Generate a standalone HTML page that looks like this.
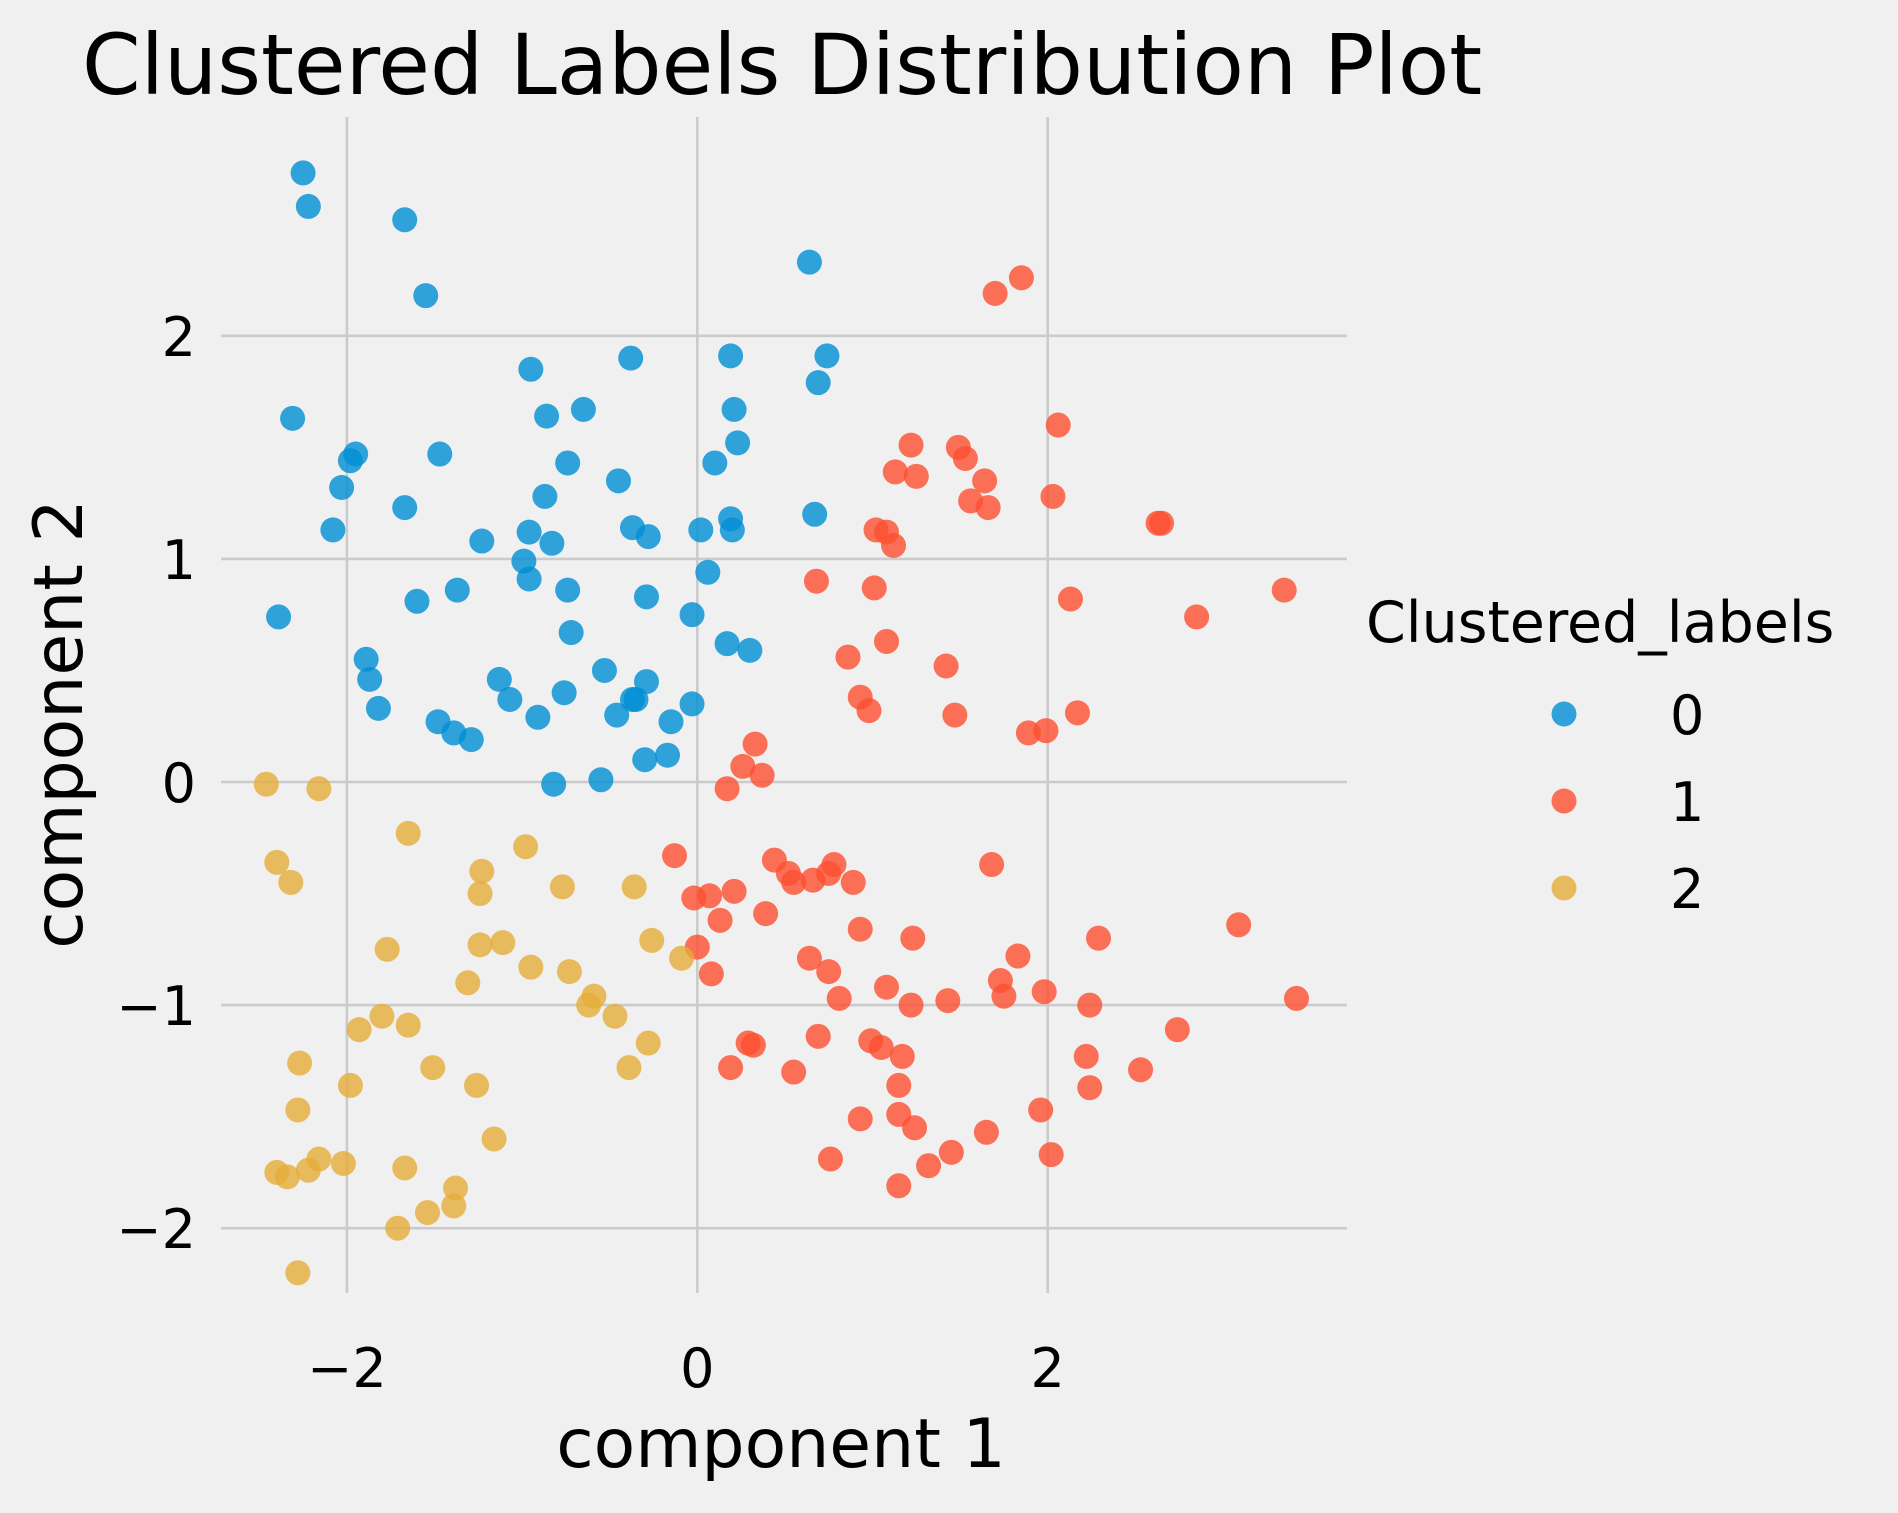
<!DOCTYPE html>
<html>
<head>
<meta charset="utf-8">
<style>
html,body{margin:0;padding:0;background:#f0f0f0;}
svg{display:block;}
text{font-family:"DejaVu Sans","Liberation Sans",sans-serif;fill:#000;}
</style>
</head>
<body>
<svg id="chart" width="1898" height="1513" viewBox="0 0 1898 1513" xmlns="http://www.w3.org/2000/svg">
<rect x="0" y="0" width="1898" height="1513" fill="#f0f0f0"/>
<text x="82" y="94" font-size="84">Clustered Labels Distribution Plot</text>
<g id="grid"></g>
<g id="ticks"></g>
<g id="points"></g>
<text x="781" y="1467" font-size="68" text-anchor="middle">component 1</text>
<text x="0" y="0" font-size="68" text-anchor="middle" transform="translate(82,724) rotate(-90)">component 2</text>
<g id="legend">
<text x="1366" y="642" font-size="57">Clustered_labels</text>
</g>
</svg>
<script>
var xTicks = [-2, 0, 2];
var yTicks = [-2, -1, 0, 1, 2];
var labels = ["0", "1", "2"];
var colors = ["#008fd5", "#fc4f30", "#e5ae38"];
var x0 = [-2.25,-2.22,-1.67,-1.55,0.64,-2.31,-0.95,-0.86,-0.65,-0.38,0.19,0.21,0.74,0.69,0.23,0.10,-1.95,-1.98,-1.47,-0.74,-2.03,-1.67,-0.45,-0.87,-2.08,-0.96,-0.83,-0.37,-0.28,0.02,0.20,0.19,0.67,-1.23,-0.99,-0.96,0.06,-1.37,-1.60,-0.74,-0.29,-0.03,-2.39,-0.72,0.17,0.30,-1.89,-1.87,-1.13,-1.07,-0.53,-0.29,-1.82,-0.76,-0.37,-0.35,-0.46,-0.03,-0.15,-1.48,-1.39,-1.29,-0.91,-0.82,-0.55,-0.30,-0.17];
var y0 = [2.73,2.58,2.52,2.18,2.33,1.63,1.85,1.64,1.67,1.90,1.91,1.67,1.91,1.79,1.52,1.43,1.47,1.44,1.47,1.43,1.32,1.23,1.35,1.28,1.13,1.12,1.07,1.14,1.10,1.13,1.13,1.18,1.20,1.08,0.99,0.91,0.94,0.86,0.81,0.86,0.83,0.75,0.74,0.67,0.62,0.59,0.55,0.46,0.46,0.37,0.50,0.45,0.33,0.40,0.37,0.37,0.30,0.35,0.27,0.27,0.22,0.19,0.29,-0.01,0.01,0.10,0.12];
var x1 = [1.85,1.70,2.06,1.22,1.49,1.53,1.13,1.25,1.64,2.03,1.56,1.66,2.63,2.65,1.02,1.08,1.12,0.68,1.01,2.13,2.85,3.35,1.08,0.86,1.42,0.93,0.98,1.47,1.89,1.99,2.17,0.33,0.26,0.37,0.17,-0.13,0.44,0.52,0.55,0.66,0.75,0.78,0.89,1.68,-0.02,0.07,0.21,0.39,0.13,0.93,1.23,2.29,3.09,0.00,0.08,0.64,0.75,0.81,1.08,1.22,1.43,1.73,1.83,1.75,1.98,2.24,0.99,1.05,0.69,0.29,0.32,1.17,0.19,0.55,2.22,2.74,2.53,2.24,1.15,1.15,1.24,0.93,1.65,1.96,1.45,2.02,1.32,0.76,1.15,3.42];
var y1 = [2.26,2.19,1.60,1.51,1.50,1.45,1.39,1.37,1.35,1.28,1.26,1.23,1.16,1.16,1.13,1.12,1.06,0.90,0.87,0.82,0.74,0.86,0.63,0.56,0.52,0.38,0.32,0.30,0.22,0.23,0.31,0.17,0.07,0.03,-0.03,-0.33,-0.35,-0.41,-0.45,-0.44,-0.41,-0.37,-0.45,-0.37,-0.52,-0.51,-0.49,-0.59,-0.62,-0.66,-0.70,-0.70,-0.64,-0.74,-0.86,-0.79,-0.85,-0.97,-0.92,-1.00,-0.98,-0.89,-0.78,-0.96,-0.94,-1.00,-1.16,-1.19,-1.14,-1.17,-1.18,-1.23,-1.28,-1.30,-1.23,-1.11,-1.29,-1.37,-1.36,-1.49,-1.55,-1.51,-1.57,-1.47,-1.66,-1.67,-1.72,-1.69,-1.81,-0.97];
var x2 = [-2.46,-2.16,-1.65,-2.40,-2.32,-1.23,-1.24,-0.98,-0.77,-0.36,-0.26,-0.09,-1.24,-1.11,-1.77,-0.95,-0.73,-1.31,-0.59,-0.62,-0.47,-1.80,-1.65,-1.93,-0.28,-0.39,-2.27,-1.51,-1.26,-1.98,-2.28,-1.16,-2.16,-2.02,-2.22,-2.40,-2.34,-1.67,-1.38,-1.39,-1.54,-1.71,-2.28];
var y2 = [-0.01,-0.03,-0.23,-0.36,-0.45,-0.40,-0.50,-0.29,-0.47,-0.47,-0.71,-0.79,-0.73,-0.72,-0.75,-0.83,-0.85,-0.90,-0.96,-1.00,-1.05,-1.05,-1.09,-1.11,-1.17,-1.28,-1.26,-1.28,-1.36,-1.36,-1.47,-1.60,-1.69,-1.71,-1.74,-1.75,-1.77,-1.73,-1.82,-1.90,-1.93,-2.00,-2.20];

var NS = "http://www.w3.org/2000/svg";
var PL = 221, PR = 1347, PT = 117, PB = 1293;
function sx(v){ return 697.3 + v * 175.2; }
function sy(v){ return 782 - v * 223.1; }
function mk(tag, attrs, parent){
  var el = document.createElementNS(NS, tag);
  for (var k in attrs) el.setAttribute(k, attrs[k]);
  parent.appendChild(el);
  return el;
}
var grid = document.getElementById("grid");
var ticks = document.getElementById("ticks");
xTicks.forEach(function(t){
  var l = mk("line", {x1: sx(t), x2: sx(t), y1: PT, y2: PB, stroke: "#cbcbcb", "stroke-width": 2.6}, grid);
  
  
  var tx = mk("text", {x: sx(t), y: 1387, "font-size": 54, "text-anchor": "middle"}, ticks);
  tx.textContent = (t < 0 ? "\u2212" + Math.abs(t) : String(t));
  
  
});
yTicks.forEach(function(t){
  var l = mk("line", {x1: PL, x2: PR, y1: sy(t), y2: sy(t), stroke: "#cbcbcb", "stroke-width": 2.6}, grid);
  
  
  var tx = mk("text", {x: 196, y: sy(t) + 20, "font-size": 54, "text-anchor": "end"}, ticks);
  tx.textContent = (t < 0 ? "\u2212" + Math.abs(t) : String(t));
  
  
});
var pts = document.getElementById("points");
var series = [[x0, y0], [x1, y1], [x2, y2]];
series.forEach(function(s, i){
  for (var j = 0; j < s[0].length; j++){
    var c = mk("circle", {cx: sx(s[0][j]), cy: sy(s[1][j]), r: 12.5, fill: colors[i], "fill-opacity": 0.8}, pts);
    
    
  }
});
var leg = document.getElementById("legend");
labels.forEach(function(lb, i){
  var y = 714 + i * 87;
  var c = mk("circle", {cx: 1564, cy: y, r: 12.5, fill: colors[i], "fill-opacity": 0.8}, leg);
  
  
  var t = mk("text", {x: 1670, y: y + 20, "font-size": 54}, leg);
  t.textContent = lb;
  
  
});
</script>
</body>
</html>
